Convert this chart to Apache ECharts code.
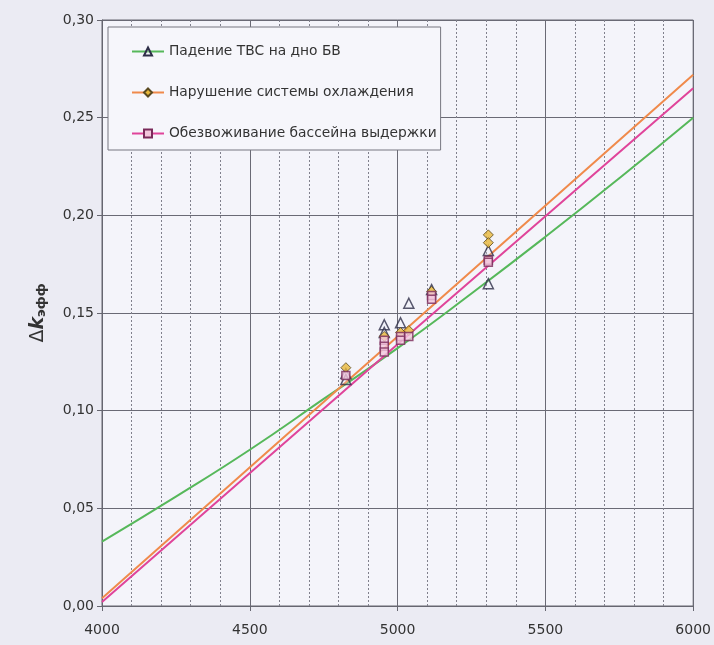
<!DOCTYPE html>
<html>
<head>
<meta charset="utf-8">
<script src="https://cdn.jsdelivr.net/npm/echarts@6/dist/echarts.min.js"></script>
<style>
  html, body { margin: 0; padding: 0; background: #ebebf3; }
  #chart { width: 714px; height: 645px; }
</style>
</head>
<body>
<div id="chart"></div>
<script>
// Series names
var seriesNames = [
  'Падение ТВС на дно БВ',
  'Нарушение системы охлаждения',
  'Обезвоживание бассейна выдержки'
];

// Fit curves: [x, Δk]
var fallFit = [[4000, 0.033], [4250, 0.056], [4500, 0.080], [4750, 0.106], [5000, 0.132],
               [5250, 0.160], [5500, 0.189], [5750, 0.219], [6000, 0.250]];
var coolingFit = [[4000, 0.004], [5000, 0.138], [6000, 0.272]];
var drainFit = [[4000, 0.002], [5000, 0.134], [6000, 0.265]];

// Computed points: [x, Δk]
var fallPts = [[4825, 0.119], [4825, 0.116], [4955, 0.144], [4955, 0.140], [5010, 0.145],
               [5038, 0.155], [5115, 0.162], [5307, 0.182], [5307, 0.165]];
var coolingPts = [[4825, 0.122], [4955, 0.138], [5010, 0.140], [5038, 0.141], [5115, 0.161],
                  [5307, 0.190], [5307, 0.186]];
var drainPts = [[4825, 0.118], [4955, 0.136], [4955, 0.133], [4955, 0.130], [5010, 0.138],
                [5010, 0.136], [5038, 0.138], [5115, 0.159], [5115, 0.157], [5307, 0.177], [5307, 0.176]];

// Axis ranges
var xMin = 4000, xMax = 6000, xStep = 500;
var yMin = 0, yMax = 0.30, yStep = 0.05;

var lineColors = ['#56b85a', '#f08a4b', '#e0449a'];
var font = 'DejaVu Sans, Arial, sans-serif';

var chart = echarts.init(document.getElementById('chart'));

function fitSeries(name, data, color, symbol, symbolStyle) {
  return {
    name: name, type: 'line', data: data, smooth: true,
    symbol: symbol, symbolSize: 9, showSymbol: false,
    lineStyle: { color: color, width: 2 },
    itemStyle: symbolStyle,
    z: 3, silent: true
  };
}
function pointSeries(data, symbol, size, style) {
  return {
    type: 'scatter', data: data, symbol: symbol, symbolSize: size,
    itemStyle: style, z: 5, silent: true
  };
}

var triStyle = { color: 'rgba(240,240,248,0.3)', borderColor: '#2e2e48', borderWidth: 1.5 };
var diaStyle = { color: '#e8b83a', borderColor: '#5a4a20', borderWidth: 1 };
var sqStyle = { color: '#f2c6dc', borderColor: '#7a2a5a', borderWidth: 1.5 };

chart.setOption({
  backgroundColor: '#ebebf3',
  animation: false,
  textStyle: { fontFamily: font },
  grid: {
    left: 102, right: 20, top: 20, bottom: 39,
    show: true, backgroundColor: '#f4f4fa', borderColor: '#666670', borderWidth: 1
  },
  legend: {
    orient: 'vertical', left: 108, top: 27,
    padding: [16, 4, 8, 23],
    itemGap: 24, itemWidth: 32, itemHeight: 10,
    backgroundColor: '#f6f6fb', borderColor: '#777780', borderWidth: 1,
    textStyle: { fontSize: 13.8, color: '#333', fontFamily: font, lineHeight: 17 },
    data: seriesNames
  },
  xAxis: {
    type: 'value', min: xMin, max: xMax, interval: xStep,
    axisLine: { lineStyle: { color: '#666670' } },
    axisTick: { show: true, length: 5, lineStyle: { color: '#666670' } },
    axisLabel: {
      fontSize: 14, color: '#333', margin: 17, fontFamily: font,
      formatter: function (v) { return String(v); }
    },
    splitLine: { show: true, lineStyle: { color: '#6a6a75', width: 1 } },
    minorTick: { show: false, splitNumber: 5 },
    minorSplitLine: { show: true, lineStyle: { color: '#80808c', width: 1, type: [2, 2] } }
  },
  yAxis: {
    type: 'value', min: yMin, max: yMax, interval: yStep,
    name: '{d|Δ}{k|k}{s|эфф}',
    nameLocation: 'middle', nameGap: 54, nameRotate: 90,
    nameTextStyle: {
      rich: {
        d: { fontSize: 19, color: '#333', fontFamily: font },
        k: { fontSize: 19, color: '#333', fontStyle: 'italic', fontWeight: 'bold', fontFamily: font },
        s: { fontSize: 13, color: '#333', fontWeight: 'bold', fontFamily: font, verticalAlign: 'bottom', padding: [7, 0, 0, 0] }
      }
    },
    axisLine: { show: true, lineStyle: { color: '#666670' } },
    axisTick: { show: true, length: 5, lineStyle: { color: '#666670' } },
    axisLabel: {
      fontSize: 14, color: '#333', margin: 8, fontFamily: font,
      formatter: function (v) { return v.toFixed(2).replace('.', ','); }
    },
    splitLine: { show: true, lineStyle: { color: '#6a6a75', width: 1 } }
  },
  series: [
    fitSeries(seriesNames[0], fallFit, lineColors[0], 'triangle', triStyle),
    fitSeries(seriesNames[1], coolingFit, lineColors[1], 'diamond', diaStyle),
    fitSeries(seriesNames[2], drainFit, lineColors[2], 'rect', sqStyle),
    pointSeries(fallPts, 'triangle', 10, triStyle),
    pointSeries(coolingPts, 'diamond', 10, diaStyle),
    pointSeries(drainPts, 'rect', 8, sqStyle)
  ]
});
</script>
</body>
</html>
